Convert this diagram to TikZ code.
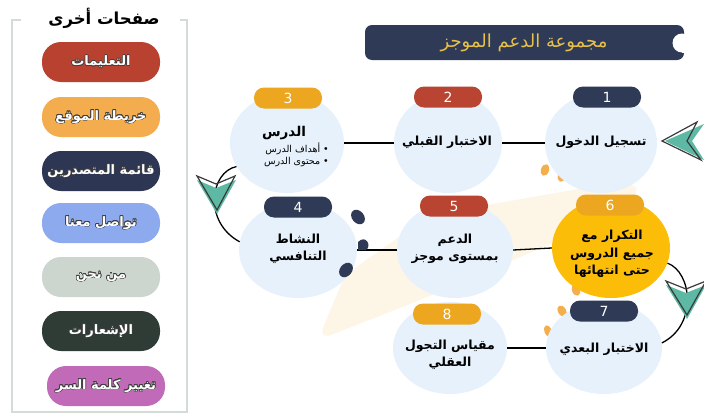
\documentclass[tikz,border=0pt]{standalone}
\usepackage{fontspec}
\usepackage[copies]{contour}
\contourlength{0.6pt}
\usetikzlibrary{shapes.geometric}
\TeXXeTstate=1
\newfontfamily\arabicfont[Script=Arabic]{DejaVu Sans}
\newfontfamily\numfont{DejaVu Sans}
\definecolor{blobblue}{HTML}{E6F1FC}
\definecolor{navy}{HTML}{2F3A57}
\definecolor{brick}{HTML}{B94432}
\definecolor{amber}{HTML}{ECA61F}
\definecolor{sun}{HTML}{FBBD07}
\definecolor{teal}{HTML}{5DB8A4}
\definecolor{cream}{HTML}{FDF6E7}
\definecolor{dotorange}{HTML}{F3AE4E}
\definecolor{panelline}{HTML}{D3DDD5}
\definecolor{sred}{HTML}{B9412F}
\definecolor{sorange}{HTML}{F3AD4F}
\definecolor{snavy}{HTML}{2D3754}
\definecolor{sblue}{HTML}{8EAAEE}
\definecolor{sgray}{HTML}{CCD5CE}
\definecolor{sgreen}{HTML}{2F3C36}
\definecolor{spurple}{HTML}{C06AB8}
\definecolor{titleyellow}{HTML}{E9C148}
\definecolor{arrowline}{HTML}{3A3A3A}
\newcommand{\sidetext}[1]{\contour{black!75}{\beginR #1\endR}}
\begin{document}
\begin{tikzpicture}[x=1pt,y=-1pt,
  sidepill/.style={rectangle, rounded corners=19pt, minimum width=118pt, minimum height=40pt, inner sep=0pt,
    text=white, font=\arabicfont\bfseries\fontsize{13}{15}\selectfont},
  blob/.style={ellipse, fill=blobblue, inner sep=0pt},
  numpill/.style={rectangle, rounded corners=10pt, minimum width=68pt, minimum height=21pt, inner sep=0pt,
    text=white, font=\numfont\fontsize{14}{16}\selectfont},
  label/.style={font=\arabicfont\bfseries\fontsize{12.5}{17.5}\selectfont, align=center, text=black},
  conn/.style={line width=1.3pt, black},
  chevron/.style={fill=teal},
  chevronline/.style={draw=arrowline, line width=1.2pt, line join=miter},
  dot/.style={fill=dotorange},
  drop/.style={fill=navy}
]
\useasboundingbox (0,0) rectangle (704,415);
\fill[white] (0,0) rectangle (704,415);

% ---------- left panel ----------
\draw[panelline, line width=2pt] (21,20) -- (12,20) -- (12,412) -- (187,412) -- (187,20) -- (180,20);
\node[font=\arabicfont\bfseries\fontsize{16.5}{18}\selectfont] (ptitle) at (104,18) {\beginR صفحات أخرى\endR};
\node[sidepill, fill=sred]    (s1) at (101,62)  {\sidetext{التعليمات}};
\node[sidepill, fill=sorange] (s2) at (101,117) {\sidetext{خريطة الموقع}};
\node[sidepill, fill=snavy]   (s3) at (101,171) {\sidetext{قائمة المتصدرين}};
\node[sidepill, fill=sblue]   (s4) at (101,223) {\sidetext{تواصل معنا}};
\node[sidepill, fill=sgray]   (s5) at (101,277) {\sidetext{من نحن}};
\node[sidepill, fill=sgreen]  (s6) at (101,331) {\sidetext{الإشعارات}};
\node[sidepill, fill=spurple] (s7) at (106,386) {\sidetext{تغيير كلمة السر}};

% ---------- title bar ----------
\fill[navy, rounded corners=7pt] (365,25) rectangle (684,60);
\fill[white] (682,43) circle (9.5);
\fill[white] (682,33.5) rectangle (690,52.5);
\node[font=\arabicfont\fontsize{18}{20}\selectfont, text=titleyellow] (bartitle) at (524,43) {\beginR مجموعة الدعم الموجز\endR};

% ---------- cream background shape ----------
\fill[cream, rounded corners=14pt] (318,340) -- (345,275) -- (430,215) -- (630,180) -- (642,195) -- (560,240) -- (420,300) -- cycle;

% ---------- orange dots (behind) ----------
\fill[dot, rotate around={-20:(553,157)}] (553,157) ellipse (4 and 6);
\fill[dot, rotate around={-20:(545,170)}] (545,170) ellipse (4 and 6);
\fill[dot, rotate around={-20:(562,176)}] (562,176) ellipse (4 and 6);
\fill[dot, rotate around={-20:(577,180)}] (577,180) ellipse (4 and 6);
\fill[dot, rotate around={20:(576,290)}] (576,290) ellipse (4 and 6);
\fill[dot, rotate around={30:(562,311)}] (562,311) ellipse (4 and 6);
\fill[dot, rotate around={20:(548,331)}] (548,331) ellipse (3.5 and 6);

% ---------- blobs ----------
\node[blob, minimum width=112pt, minimum height=100pt] (b1) at (601,143) {};
\node[blob, minimum width=108pt, minimum height=100pt] (b2) at (448,143) {};
\node[blob, minimum width=114pt, minimum height=100pt] (b3) at (287,143) {};
\node[blob, minimum width=118pt, minimum height=96pt]  (b4) at (298,250) {};
\node[blob, minimum width=116pt, minimum height=96pt]  (b5) at (455,250) {};
\node[ellipse, fill=sun, inner sep=0pt, minimum width=118pt, minimum height=100pt] (b6) at (611,248) {};
\node[blob, minimum width=116pt, minimum height=92pt]  (b7) at (604,348) {};
\node[blob, minimum width=114pt, minimum height=92pt]  (b8) at (450,348) {};

% ---------- straight connectors ----------
\draw[conn] (b1.west) -- (b2.east);
\draw[conn] (b2.west) -- (b3.east);
\draw[conn] (b4.east) -- (b5.west);
\draw[conn] (b5.east) -- (b6.west);
\draw[conn] (b7.west) -- (b8.east);

% ---------- curved connectors ----------
\draw[conn] (b3.205) .. controls (210,172) and (203,222) .. (b4.172);
\draw[conn] (b6.-15) .. controls (692,272) and (698,325) .. (b7.5);

% ---------- navy drops near 4 ----------
\fill[drop, rotate around={40:(358,217)}] (358,217) ellipse (6 and 8);
\fill[drop] (358,242) .. controls (366,234) and (372,246) .. (366,250) -- (358,250) -- cycle;
\fill[drop, rotate around={-40:(346,270)}] (346,270) ellipse (6 and 8);

% ---------- number pills ----------
\node[numpill, fill=navy]  (p1) at (607,97)  {1};
\node[numpill, fill=brick] (p2) at (448,97)  {2};
\node[numpill, fill=amber] (p3) at (288,98)  {3};
\node[numpill, fill=navy]  (p4) at (298,207) {4};
\node[numpill, fill=brick] (p5) at (454,206) {5};
\node[numpill, fill=amber] (p6) at (610,205) {6};
\node[numpill, fill=navy]  (p7) at (604,311) {7};
\node[numpill, fill=amber] (p8) at (447,314) {8};

% ---------- labels ----------
\node[label] (t1) at (601,142) {\beginR تسجيل الدخول\endR};
\node[label] (t2) at (447,142) {\beginR الاختبار القبلي\endR};
\node[label, font=\arabicfont\bfseries\fontsize{13.5}{15}\selectfont] (t3) at (284,133) {\beginR الدرس\endR};
\node[font=\arabicfont\fontsize{9.5}{11.5}\selectfont, align=right, anchor=east, inner sep=0pt] (t3b) at (329,155)
  {\beginR • أهداف الدرس\endR\\ \beginR • محتوى الدرس\endR};
\node[label] (t4) at (298,249) {\beginR النشاط\endR\\ \beginR التنافسي\endR};
\node[label] (t5) at (455,249) {\beginR الدعم\endR\\ \beginR بمستوى موجز\endR};
\node[label] (t6) at (612,254) {\beginR التكرار مع\endR\\ \beginR جميع الدروس\endR\\ \beginR حتى انتهائها\endR};
\node[label] (t7) at (604,349) {\beginR الاختبار البعدي\endR};
\node[label] (t8) at (450,355) {\beginR مقياس التجول\endR\\ \beginR العقلي\endR};

% ---------- chevron arrows ----------
% into step 1 (pointing left)
\fill[chevron] (665,141) -- (704,124) -- (692,141) -- (704,160) -- cycle;
\draw[chevronline] (662,141) -- (697,122) -- (687,141) -- (701,160) -- cycle;
% between 3 and 4 (pointing down)
\fill[chevron] (197,180) -- (216,188) -- (236,180) -- (217,214) -- cycle;
\draw[chevronline] (197,176) -- (216,184) -- (235,176) -- (217,210) -- cycle;
% between 6 and 7 (pointing down)
\fill[chevron] (666,285) -- (686,293) -- (706,285) -- (687,319) -- cycle;
\draw[chevronline] (666,281) -- (686,289) -- (706,281) -- (687,315) -- cycle;
\end{tikzpicture}
\end{document}
